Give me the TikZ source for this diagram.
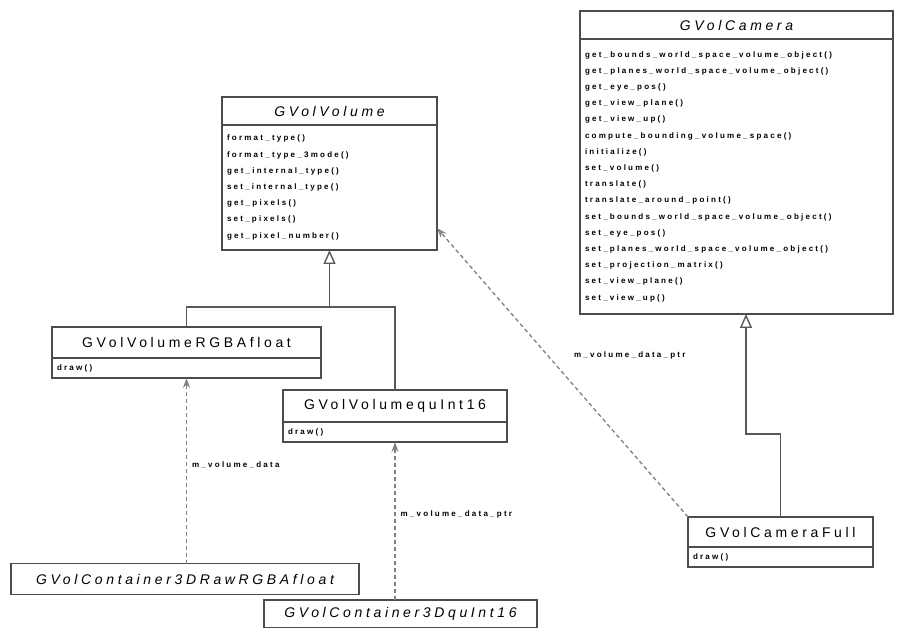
\documentclass[tikz,border=0pt]{standalone}
\usepackage{fontspec}
\setmainfont{Liberation Sans}
\newfontfamily\clsfont[LetterSpace=26]{Liberation Sans}
\newfontfamily\memfont[LetterSpace=28]{Liberation Sans}
\usetikzlibrary{positioning,arrows.meta}
\begin{document}
\begin{tikzpicture}[x=1pt,y=-1pt,
	cls/.style={draw=black!70,line width=1.3pt,fill=white,inner sep=0pt,outer sep=0pt,font=\clsfont\fontsize{14}{16}\selectfont},
	mem/.style={draw=black!70,line width=1.3pt,fill=white,inner xsep=5pt,inner ysep=0pt,outer sep=0pt,align=left,font=\memfont\bfseries\fontsize{8}{16.2}\selectfont},
	inh/.style={draw=black!65,line width=1.4pt,-{Triangle[open,length=14pt,width=12pt]}},
	uses/.style={draw=black!50,line width=1.3pt,dash pattern=on 4pt off 3pt,-{Stealth[open,length=10pt,width=7pt]}},
	lbl/.style={font=\memfont\bfseries\fontsize{8}{10}\selectfont,inner sep=1pt}]
	\useasboundingbox (0,0) rectangle (897,628);
	\node[cls,minimum width=215pt,minimum height=28pt] (vol) at (329.5,111) {\itshape GVolVolume};
	\node[mem,minimum width=215pt,minimum height=125pt,text width=205pt,below=0pt of vol] (volm) {format\_type()\\format\_type\_3mode()\\get\_internal\_type()\\set\_internal\_type()\\get\_pixels()\\set\_pixels()\\get\_pixel\_number()};
	\node[cls,minimum width=313pt,minimum height=28pt] (cam) at (736.5,25) {\itshape GVolCamera};
	\node[mem,minimum width=313pt,minimum height=275pt,text width=303pt,below=0pt of cam] (camm) {get\_bounds\_world\_space\_volume\_object()\\get\_planes\_world\_space\_volume\_object()\\get\_eye\_pos()\\get\_view\_plane()\\get\_view\_up()\\compute\_bounding\_volume\_space()\\initialize()\\set\_volume()\\translate()\\translate\_around\_point()\\set\_bounds\_world\_space\_volume\_object()\\set\_eye\_pos()\\set\_planes\_world\_space\_volume\_object()\\set\_projection\_matrix()\\set\_view\_plane()\\set\_view\_up()};
	\node[cls,minimum width=269pt,minimum height=31pt] (rgba) at (186.5,342.5) {GVolVolumeRGBAfloat};
	\node[mem,minimum width=269pt,minimum height=20pt,text width=259pt,below=0pt of rgba] (rgbam) {draw()};
	\node[cls,minimum width=224pt,minimum height=32pt] (u16) at (395,406) {GVolVolumequInt16};
	\node[mem,minimum width=224pt,minimum height=20pt,text width=214pt,below=0pt of u16] (u16m) {draw()};
	\node[cls,minimum width=185pt,minimum height=30pt] (cfull) at (780.5,532) {GVolCameraFull};
	\node[mem,minimum width=185pt,minimum height=20pt,text width=175pt,below=0pt of cfull] (cfullm) {draw()};
	\node[cls,minimum width=348pt,minimum height=31pt] (crgba) at (185,579) {\itshape GVolContainer3DRawRGBAfloat};
	\node[cls,minimum width=273pt,minimum height=28pt] (cu16) at (400.5,614) {\itshape GVolContainer3DquInt16};
	\coordinate (vj) at (329.5,307);
	\coordinate (cj) at (746,434);
	\draw[inh] (rgba.north) |- (vj) -- (volm.south);
	\draw[inh,-] (u16.north) |- (vj);
	\draw[inh] (cfull.north) |- (cj) -- (cj |- camm.south);
	\draw[uses] (rgbam.south |- crgba.north) -- node[lbl,pos=.53,right=4pt]{m\_volume\_data} (rgbam.south);
	\draw[uses] (u16m.south |- cu16.north) -- node[lbl,pos=.54,right=4pt]{m\_volume\_data\_ptr} (u16m.south);
	\draw[uses] (cfull.north west) -- node[lbl,pos=.56,anchor=west,xshift=25pt]{m\_volume\_data\_ptr} ([yshift=22pt]volm.south east);
\end{tikzpicture}
\end{document}
